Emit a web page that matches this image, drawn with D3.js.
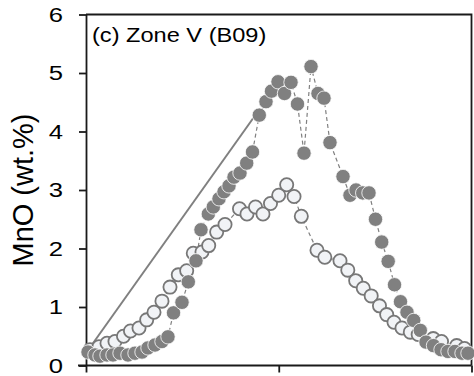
<!DOCTYPE html>
<html>
<head>
<meta charset="utf-8">
<script src="https://cdn.jsdelivr.net/npm/d3@7"></script>
<style>
  html, body { margin: 0; padding: 0; background: #fff; }
  svg { display: block; }
  text { font-family: Arial, "Liberation Sans", sans-serif; fill: #000; }
</style>
</head>
<body>
<script>
// ---- data (distance along profile, arbitrary 0-100 units; MnO wt.%) ----
const filledX = [0.52, 2.33, 3.63, 5.45, 7.00, 8.82, 10.89, 12.71, 14.53, 16.08, 17.90, 19.71, 21.27,
  22.70, 24.90, 26.54, 28.53, 29.83, 31.73, 33.02, 34.50, 35.80, 37.09, 38.39, 39.95, 41.69, 43.19,
  44.95, 46.69, 48.12, 49.81, 51.49, 53.18, 54.86, 56.55, 58.37, 60.18, 61.74, 63.29, 66.67, 68.48,
  70.04, 71.78, 73.41, 75.10, 76.71, 78.39, 80.03, 81.58, 83.27, 85.01, 86.72, 88.20, 90.14, 92.09,
  93.90, 95.72, 97.54, 99.09];
const filledY = [0.23, 0.18, 0.16, 0.18, 0.18, 0.21, 0.18, 0.21, 0.23, 0.30, 0.35, 0.41, 0.49,
  0.90, 1.08, 1.43, 1.79, 2.32, 2.59, 2.71, 2.85, 2.97, 3.07, 3.22, 3.29, 3.46, 3.65,
  4.28, 4.51, 4.69, 4.85, 4.65, 4.84, 4.47, 3.63, 5.11, 4.65, 4.57, 3.81, 3.23, 2.91,
  3.00, 2.95, 2.95, 2.50, 2.11, 1.78, 1.38, 1.09, 0.91, 0.77, 0.60, 0.40, 0.34, 0.27,
  0.24, 0.24, 0.21, 0.21];

const openX = [1.04, 3.37, 5.45, 7.52, 9.73, 11.54, 13.75, 15.75, 17.64, 19.71, 21.79, 23.94, 26.12,
  27.83, 30.09, 31.83, 33.90, 36.06, 39.82, 41.76, 43.97, 45.91, 47.86, 49.99, 52.06, 53.96, 55.85,
  59.92, 61.95, 65.89, 67.91, 69.96, 71.93, 73.98, 76.13, 78.00, 79.90, 81.97, 84.13, 86.17, 90.07,
  92.22, 96.16, 98.18];
const openY = [0.27, 0.32, 0.38, 0.41, 0.50, 0.59, 0.64, 0.78, 0.91, 1.10, 1.34, 1.55, 1.62,
  1.92, 1.94, 2.05, 2.28, 2.41, 2.68, 2.59, 2.71, 2.59, 2.77, 2.91, 3.09, 2.89, 2.55,
  1.97, 1.85, 1.79, 1.63, 1.45, 1.32, 1.19, 1.02, 0.87, 0.74, 0.64, 0.57, 0.53, 0.46,
  0.41, 0.34, 0.29];

const modelX = [0.52, 43.40];
const modelY = [0.26, 4.23];

const yTicks = [0, 1, 2, 3, 4, 5, 6];
const xTicks = [0, 50, 100];
const title = "(c) Zone V (B09)";
const yLabel = "MnO (wt.%)";

(function () {
// ---- layout ----
const W = 474, H = 376;
const mLeft = 86, mRight = 471.5, mTop = 14.5, mBottom = 365.5;

const svg = d3.select("body").append("svg").attr("width", W).attr("height", H);

const x = d3.scaleLinear().domain([0, 100]).range([mLeft, mRight]);
const y = d3.scaleLinear().domain([0, 6]).range([mBottom, mTop]);

const gray = "#808080";
const ink = "#1a1a1a";

// frame (top and right)
svg.append("path")
  .attr("d", `M${mLeft},${mTop}H${mRight}V${mBottom}`)
  .attr("fill", "none").attr("stroke", ink).attr("stroke-width", 1.8);

// left axis
const yAxis = svg.append("g").attr("transform", `translate(${mLeft},0)`)
  .call(d3.axisLeft(y).tickValues(yTicks).tickSize(7).tickSizeOuter(0).tickPadding(16).tickFormat(d3.format("d")));
yAxis.select(".domain").attr("stroke", ink).attr("stroke-width", 1.8);
yAxis.selectAll(".tick line").attr("stroke", ink).attr("stroke-width", 1.8);
yAxis.selectAll(".tick text")
  .attr("font-size", 21).attr("font-family", "Arial, 'Liberation Sans', sans-serif").attr("fill", "#000")
  .each(function () {
    const t = d3.select(this);
    const xx = +t.attr("x");
    t.attr("x", null).attr("transform", `translate(${xx},0) scale(1.22,1)`);
  });

// bottom axis
const xAxis = svg.append("g").attr("transform", `translate(0,${mBottom})`)
  .call(d3.axisBottom(x).tickValues(xTicks).tickSize(7).tickSizeOuter(0).tickFormat(""));
xAxis.select(".domain").attr("stroke", ink).attr("stroke-width", 1.8)
  .attr("d", `M${mLeft - 8},0H${mRight}`);
xAxis.selectAll(".tick line").attr("stroke", ink).attr("stroke-width", 1.8);

// model line
const line = d3.line().x(d => x(d[0])).y(d => y(d[1]));
svg.append("path")
  .datum(d3.zip(modelX, modelY))
  .attr("d", line).attr("fill", "none").attr("stroke", gray).attr("stroke-width", 2);

// dashed connecting lines
svg.append("path")
  .datum(d3.zip(openX, openY))
  .attr("d", line).attr("fill", "none").attr("stroke", gray)
  .attr("stroke-width", 1.2).attr("stroke-dasharray", "4,3");
svg.append("path")
  .datum(d3.zip(filledX, filledY))
  .attr("d", line).attr("fill", "none").attr("stroke", gray)
  .attr("stroke-width", 1.2).attr("stroke-dasharray", "4,3");

// open circles
svg.append("g").selectAll("circle")
  .data(d3.zip(openX, openY)).join("circle")
  .attr("cx", d => x(d[0])).attr("cy", d => y(d[1])).attr("r", 6.6)
  .attr("fill", "#f1f3f6").attr("stroke", "#777").attr("stroke-width", 1.8);

// filled circles
svg.append("g").selectAll("circle")
  .data(d3.zip(filledX, filledY)).join("circle")
  .attr("cx", d => x(d[0])).attr("cy", d => y(d[1])).attr("r", 7.2)
  .attr("fill", gray).attr("stroke", "#fff").attr("stroke-width", 0.8);

// title
svg.append("text")
  .attr("transform", "translate(92,42) scale(1.18,1)")
  .attr("font-size", 20).text(title);

// y label
svg.append("text")
  .attr("transform", "translate(33,190) rotate(-90)")
  .attr("text-anchor", "middle").attr("font-size", 29).text(yLabel);
})();
</script>
</body>
</html>
